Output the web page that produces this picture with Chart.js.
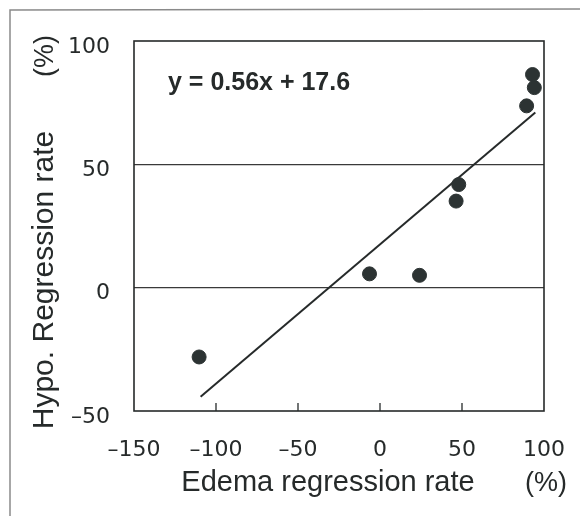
<!DOCTYPE html>
<html>
<head>
<meta charset="utf-8">
<script src="https://cdn.jsdelivr.net/npm/chart.js@4/dist/chart.umd.min.js"></script>
<style>
  body { margin: 0; background: #fff; }
  canvas { display: block; }
</style>
</head>
<body>
<canvas id="grafica" width="580" height="516"></canvas>
<script>
// datos
const edemaRate = [-110.3, -6.4, 24.1, 46.4, 48.0, 89.4, 93.0, 94.1];
const hypoRate = [-28.1, 5.6, 5.0, 35.1, 41.8, 73.7, 86.4, 81.1];
// recta de regresion (extremos tal como aparecen dibujados)
const fitX = [-109.4, 94.7];
const fitY = [-44.2, 71.0];
const xTicks = [-150, -100, -50, 0, 50, 100];
const yTicks = [-50, 0, 50, 100];
const gridAt = [0, 50];
const equation = "y = 0.56x + 17.6";
const xTitle = "Edema regression rate";
const yTitle = "Hypo. Regression rate";
const unit = "(%)";

const ink = "#262a2a";
const fmt = (v) => (v < 0 ? "\u2013" + Math.abs(v) : String(v));

// dibuja marco, recuadro, marcas internas y textos
const extras = {
    id: "extras",
    beforeDraw(chart) {
        const ctx = chart.ctx;
        ctx.save();
        ctx.fillStyle = "#fff";
        ctx.fillRect(0, 0, chart.width, chart.height);
        ctx.strokeStyle = "#8a8a8a";
        ctx.lineWidth = 1.5;
        ctx.beginPath();
        ctx.moveTo(10, 516);
        ctx.lineTo(10, 10);
        ctx.lineTo(580, 9);
        ctx.stroke();
        ctx.restore();
    },
    afterDraw(chart) {
        const ctx = chart.ctx;
        const a = chart.chartArea;
        const xs = chart.scales.x;
        ctx.save();
        ctx.strokeStyle = ink;
        ctx.lineWidth = 1.6;
        ctx.strokeRect(a.left, a.top, a.right - a.left, a.bottom - a.top);
        // marcas hacia adentro en el eje x
        ctx.lineWidth = 1.3;
        xTicks.slice(1, -1).forEach((v) => {
            const px = xs.getPixelForValue(v);
            ctx.beginPath();
            ctx.moveTo(px, a.bottom);
            ctx.lineTo(px, a.bottom - 8);
            ctx.stroke();
        });
        ctx.fillStyle = ink;
        // ecuacion
        ctx.font = "bold 25px 'Liberation Sans', Arial, sans-serif";
        ctx.textAlign = "left";
        ctx.textBaseline = "alphabetic";
        ctx.fillText(equation, 168, 90);
        // titulo eje x
        ctx.font = "29px 'Liberation Sans', Arial, sans-serif";
        ctx.textAlign = "center";
        ctx.fillText(xTitle, 328, 491);
        ctx.font = "27px 'Liberation Sans', Arial, sans-serif";
        ctx.fillText(unit, 546, 491);
        // titulo eje y
        ctx.translate(53, 0);
        ctx.rotate(-Math.PI / 2);
        ctx.font = "30px 'Liberation Sans', Arial, sans-serif";
        ctx.fillText(yTitle, -280, 0);
        ctx.font = "27px 'Liberation Sans', Arial, sans-serif";
        ctx.fillText(unit, -56, 0);
        ctx.restore();
    },
};

const ctxGrafica = document.getElementById("grafica").getContext("2d");
new Chart(ctxGrafica, {
    type: "scatter",
    data: {
        datasets: [
            {
                label: "datos",
                data: edemaRate.map((x, i) => ({ x: x, y: hypoRate[i] })),
                backgroundColor: "#2c3333",
                borderColor: "#2c3333",
                pointRadius: 7,
            },
            {
                label: "regresion",
                data: fitX.map((x, i) => ({ x: x, y: fitY[i] })),
                showLine: true,
                borderColor: ink,
                borderWidth: 2,
                pointRadius: 0,
            },
        ],
    },
    options: {
        responsive: false,
        animation: false,
        layout: { padding: { top: 41, right: 36, left: 0, bottom: 0 } },
        plugins: {
            legend: { display: false },
            tooltip: { enabled: false },
        },
        scales: {
            x: {
                type: "linear",
                min: -150,
                max: 100,
                afterFit: (s) => {
                    s.height = 105;
                    s.paddingLeft = 0;
                    s.paddingRight = 0;
                },
                afterBuildTicks: (s) => { s.ticks = xTicks.map((v) => ({ value: v })); },
                grid: { display: false },
                border: { display: false },
                ticks: {
                    padding: 18,
                    color: ink,
                    font: { family: "'DejaVu Sans'", size: 22 },
                    maxRotation: 0,
                    callback: fmt,
                },
            },
            y: {
                type: "linear",
                min: -50,
                max: 100,
                afterFit: (s) => {
                    s.width = 134;
                    s.paddingTop = 0;
                    s.paddingBottom = 0;
                },
                afterBuildTicks: (s) => { s.ticks = yTicks.map((v) => ({ value: v })); },
                grid: {
                    drawTicks: false,
                    lineWidth: 1.2,
                    color: (c) => (gridAt.includes(c.tick.value) ? "#3a3a3a" : "rgba(0,0,0,0)"),
                },
                border: { display: false },
                ticks: {
                    padding: 24,
                    labelOffset: 6,
                    color: ink,
                    font: { family: "'DejaVu Sans'", size: 22 },
                    callback: fmt,
                },
            },
        },
    },
    plugins: [extras],
});
</script>
</body>
</html>
